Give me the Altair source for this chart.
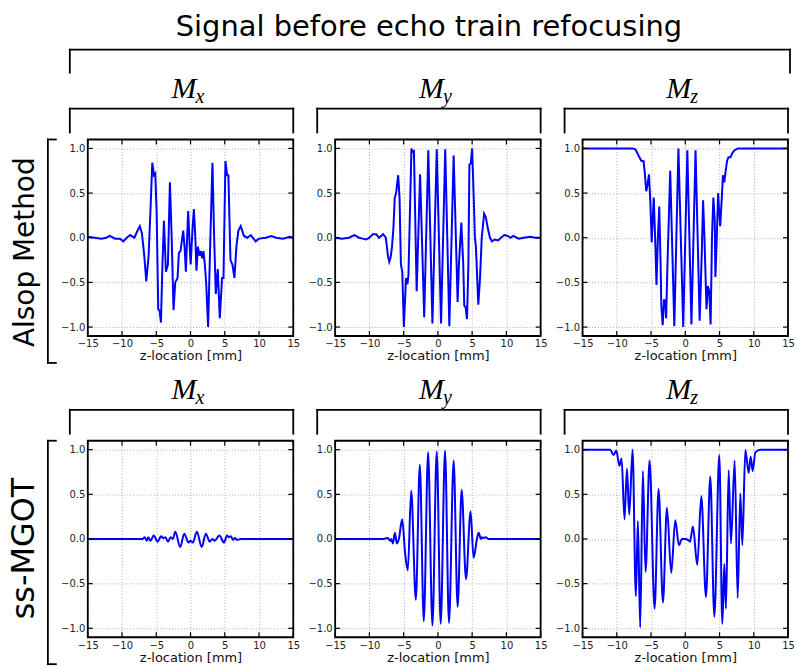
import altair as alt
import pandas as pd

# ---------------- data ----------------
XT = [-15, -10, -5, 0, 5, 10, 15]
YT = [-1.0, -0.5, 0.0, 0.5, 1.0]

alsop_mx_z = [-15, -14, -13, -12.3, -11.8, -11, -10.3, -9.8, -9.3, -8.8, -8.2, -7.8, -7.4, -7.1,
              -6.75, -6.46, -6.12, -5.8, -5.58, -5.34, -5.15, -4.95, -4.71, -4.51, -4.32, -4.1,
              -3.88, -3.59, -3.3, -3.01, -2.75, -2.48, -2.23, -1.89, -1.7, -1.46, -1.07, -0.87,
              -0.68, -0.5, -0.34, -0.15, 0.02, 0.29, 0.49, 0.7, 0.87, 1.07, 1.31, 1.5, 1.7, 1.89,
              2.09, 2.28, 2.57, 2.9, 3.2, 3.45, 3.69, 3.98, 4.27, 4.61, 4.81, 5.1, 5.34, 5.53,
              5.83, 6.12, 6.41, 6.7, 6.99, 7.33, 7.8, 8.3, 8.8, 9.5, 10, 11, 11.8, 12.5, 13.5,
              14.5, 15]
alsop_mx_v = [0.01, 0.0, -0.01, 0.0, 0.02, -0.01, -0.01, -0.04, 0.0, 0.03, 0.0, 0.07, 0.13, 0.05,
              -0.2, -0.49, -0.2, 0.4, 0.84, 0.7, 0.72, 0.3, -0.8, -0.82, -0.95, -0.3,
              0.19, -0.38, -0.3, 0.62, 0.0, -0.81, -0.5, -0.45, -0.17, -0.15, 0.08, -0.1,
              -0.38, 0.0, 0.3, -0.05, -0.3, 0.1, 0.32, 0.0, -0.37, -0.1, -0.2, -0.15, -0.23, -0.15,
              -0.3, -0.5, -1.0, 0.0, 0.84, 0.0, -0.63, -0.35, -0.9, -0.45, -0.45, 0.86, 0.7, 0.7,
              -0.25, -0.3, -0.45, -0.1, 0.08, 0.13, 0.02, 0.0, 0.03, -0.04, -0.01, 0.0, 0.02, 0.0, -0.01,
              0.01, 0.0]

alsop_my_z = [-15, -14, -13, -12.2, -11.5, -11, -10.5, -10, -9.5, -9, -8.6, -8.0, -7.6, -7.3, -7.1,
              -6.9, -6.7, -6.5, -6.3, -6.1, -5.8, -5.6, -5.4, -5.2, -4.97, -4.65, -4.45, -4.3,
              -3.86, -3.7, -3.5, -3.1, -2.6, -2.0, -1.4, -0.8, -0.17, 0.46, 1.07, 1.67, 2.3, 2.88,
              3.07, 3.42, 3.7, 3.85, 4.05, 4.25, 4.45, 4.6, 4.8, 5.0, 5.25, 5.4, 5.55, 5.9, 6.15,
              6.4, 6.75, 7.0, 7.3, 7.6, 7.9, 8.3, 8.8, 9.2, 9.7, 10.2, 10.6, 11, 11.8, 12.5, 13.5,
              14.2, 15]
alsop_my_v = [0.0, -0.01, 0.0, 0.03, 0.0, -0.01, -0.02, 0.0, 0.04, 0.04, 0.0, 0.04, 0.0, -0.2, -0.27,
              -0.22, -0.1, 0.1, 0.45, 0.5, 0.7, 0.45, -0.3, -0.38, -1.0, -0.45, -0.52, -0.42,
              1.0, 0.96, 0.97, -0.6, 0.71, -0.89, 0.98, -0.96, 0.99, -0.96, 0.99, -0.99, 0.92, -0.72,
              -0.3, 0.17, -0.3, -0.76, -0.78, -0.91, -0.3, 0.82, 0.83, 1.0, 0.4, 0.0, -0.1, -0.75, -0.45,
              0.0, 0.27, 0.23, 0.1, 0.0, -0.04, -0.02, -0.03, 0.0, 0.03, 0.02, 0.0, 0.02, -0.01, 0.0, 0.01,
              0.0, 0.0]

alsop_mz_z = [-15, -7.7, -7.3, -7.0, -6.7, -6.4, -6.1, -5.9, -5.7, -5.5, -5.3, -5.1, -4.9, -4.7, -4.6,
              -4.4, -4.2, -4.0, -3.8, -3.6, -3.5, -3.3, -3.1, -2.9, -2.8, -2.6, -2.2, -1.6, -1.0,
              -0.3, 0.3, 0.9, 1.5, 2.1, 2.4, 2.6, 2.8, 3.1, 3.3, 3.5, 3.7, 3.9, 4.1, 4.3, 4.4, 4.6,
              4.8, 4.9, 5.1, 5.3, 5.5, 5.7, 5.9, 6.1, 6.3, 6.6, 6.9, 7.2, 7.7, 15]
alsop_mz_v = [1.0, 1.0, 0.99, 0.95, 0.9, 0.86, 0.86, 0.72, 0.52, 0.6, 0.71, 0.4, -0.05, 0.3, 0.45,
              0.0, -0.53, 0.0, 0.35, -0.3, -0.75, -0.98, -0.7, -0.7, -0.9, -0.3, 0.75, -0.99, 1.0,
              -1.0, 0.98, -0.97, 0.98, -0.93, -0.2, 0.42, 0.0, -0.8, -0.54, -0.6, -0.97, 0.0, 0.45, 0.2, -0.44, 0.0,
              0.5, 0.35, 0.13, 0.4, 0.7, 0.62, 0.75, 0.86, 0.9, 0.9, 0.95, 0.98, 1.0, 1.0]

ss_mx_z = [-15, -7.5, -7.01, -6.68, -6.39, -6.19, -5.85, -5.37, -4.79, -4.31, -4.02, -3.68, -3.29,
           -2.9, -2.56, -2.23, -1.5, -0.92, -0.29, 0.0, 0.34, 0.92, 1.64, 2.23, 2.81, 3.19, 3.53,
           4.21, 4.89, 5.32, 5.6, 5.9, 6.19, 6.48, 6.8, 7.35, 15]
ss_mx_v = [0.0, 0.0, 0.0, 0.02, -0.02, 0.02, -0.02, 0.04, -0.03, 0.03, 0.01, 0.02, -0.03,
           0.02, 0.0, 0.08, -0.09, 0.06, -0.04, -0.02, -0.04, 0.08, -0.09, 0.06, -0.03, 0.0, -0.02,
           0.04, -0.04, 0.04, 0.02, 0.03, -0.01, 0.01, -0.01, 0.0, 0.0]

ss_my_z = [-15, -8.0, -7.3, -6.96, -6.81, -6.57, -6.28, -5.99, -5.7, -5.21, -4.8, -4.39, -3.9, -3.22,
           -2.64, -2.06, -1.43, -0.8, -0.17, 0.41, 1.04, 1.62, 2.3, 2.88, 3.47, 4.1, 4.77, 5.21,
           5.7, 5.94, 6.28, 6.5, 6.67, 7.01, 7.4, 15]
ss_my_v = [0.0, 0.0, 0.01, -0.02, 0.0, -0.05, 0.07, -0.05, 0.0, 0.22, -0.15, -0.35, 0.54, -0.68,
           0.83, -0.92, 0.97, -0.97, 0.98, -0.95, 0.99, -0.94, 0.88, -0.76, 0.55, -0.45, 0.31, -0.21,
           0.0, 0.07, 0.0, 0.02, 0.01, 0.02, 0.0, 0.0]

ss_mz_z = [-15, -10.96, -10.47, -10.08, -9.6, -9.3, -8.87, -8.52, -8.18, -7.7, -7.21, -6.92, -6.58,
           -6.19, -5.8, -5.21, -4.48, -3.9, -3.26, -2.68, -2.05, -1.46, -0.93, -0.49, 0.0, 0.39,
           0.68, 1.12, 1.75, 2.34, 3.02, 3.65, 4.24, 4.97, 5.41, 5.7, 5.94, 6.33, 6.67, 7.21, 7.65,
           8.04, 8.33, 8.77, 9.25, 9.55, 9.84, 10.23, 11.01, 15]
ss_mz_v = [1.0, 1.0, 0.94, 0.99, 0.82, 0.9, 0.22, 0.79, 0.27, 1.0, -0.64, 0.2, -0.99,
           0.76, -0.37, 0.88, -0.78, 0.56, -0.71, 0.35, -0.38, 0.21, -0.07, 0.0, 0.0, -0.01,
           -0.03, 0.14, -0.29, 0.48, -0.65, 0.7, -0.87, 0.94, -0.95, -0.28, -0.78, 0.77, -0.05, 0.88, -0.66,
           0.51, -0.07, 1.0, 0.74, 0.92, 0.76, 0.97, 1.0, 1.0]

ROW_LABELS = ["Alsop Method", "ss-MGOT"]
COL_SUBS = ["x", "y", "z"]
TITLE = "Signal before echo train refocusing"
XTITLE = "z-location [mm]"

# ---------------- layout ----------------
W, H = 206, 197
GAPX, GAPY = 42, 105
BLUE = "#0000ff"
ONE = alt.Data(values=[{"k": 1}])
SANS = "DejaVu Sans"
SERIF = "Liberation Serif"


def rule(x1, y1, x2, y2, sw=1.8):
    return alt.Chart(ONE).mark_rule(color="black", strokeWidth=sw, strokeCap="square").encode(
        x=alt.value(x1), y=alt.value(y1), x2=alt.value(x2), y2=alt.value(y2))


def text(s, x, y, size, font=SANS, align="center", angle=0, style="normal"):
    return alt.Chart(ONE).mark_text(text=s, font=font, fontSize=size, align=align,
                                     baseline="alphabetic", angle=angle, fontStyle=style,
                                     color="black").encode(x=alt.value(x), y=alt.value(y))


def decorations():
    layers = []
    # invisible anchor so that the page origin sits 88px left / 139px above panel 1
    layers.append(alt.Chart(ONE).mark_rule(strokeOpacity=0).encode(
        x=alt.value(-88), y=alt.value(-139), x2=alt.value(-84), y2=alt.value(-139)))
    layers.append(text(TITLE, 342, -104, 29))
    right = 2 * (W + GAPX) + W + 2
    layers += [rule(-18, -90, right, -90), rule(-18, -90, -18, -67), rule(right, -90, right, -67)]
    for r in range(2):
        oy = r * (H + GAPY)
        for i in range(3):
            ox = i * (W + GAPX)
            cx = ox + W / 2
            layers.append(text("M", cx + 6, oy - 42, 30, font=SERIF, align="right", style="italic"))
            layers.append(text(COL_SUBS[i], cx + 5, oy - 37, 20, font=SERIF, align="left", style="italic"))
            layers += [rule(ox - 18, oy - 31, ox + W, oy - 31),
                       rule(ox - 18, oy - 31, ox - 18, oy - 7),
                       rule(ox + W, oy - 31, ox + W, oy - 7)]
        layers += [rule(-40, oy, -40, oy + 224), rule(-40, oy, -32, oy), rule(-40, oy + 224, -32, oy + 224)]
    layers.append(text(ROW_LABELS[0], -54, 113, 28, angle=270))
    layers.append(text(ROW_LABELS[1], -54, 410, 32, angle=270))
    return layers


def panel(z, v, interp, deco=False):
    df = pd.DataFrame({"z": z, "v": v})
    xenc = alt.X("z:Q", scale=alt.Scale(domain=[-15, 15], nice=False, zero=False),
                 axis=alt.Axis(values=XT, title=XTITLE, labelFlush=False, labelOverlap=False))
    yenc = alt.Y("v:Q", scale=alt.Scale(domain=[-1.1, 1.1], nice=False, zero=False),
                 axis=alt.Axis(values=YT, format=".1f", title=None, labelFlush=False))
    line = alt.Chart(df).mark_line(color=BLUE, strokeWidth=2, interpolate=interp).encode(x=xenc, y=yenc)
    xt = pd.DataFrame({"z": XT})
    yt = pd.DataFrame({"v": YT})
    tk = dict(color="black", strokeWidth=1.2)
    ticks = [
        alt.Chart(xt).mark_rule(**tk).encode(x=xenc, y=alt.value(H), y2=alt.value(H - 5)),
        alt.Chart(xt).mark_rule(**tk).encode(x=xenc, y=alt.value(0), y2=alt.value(5)),
        alt.Chart(yt).mark_rule(**tk).encode(y=yenc, x=alt.value(0), x2=alt.value(5)),
        alt.Chart(yt).mark_rule(**tk).encode(y=yenc, x=alt.value(W), x2=alt.value(W - 5)),
    ]
    frame = alt.Chart(ONE).mark_rect(fillOpacity=0, stroke="black", strokeWidth=1.8).encode(
        x=alt.value(0), x2=alt.value(W), y=alt.value(0), y2=alt.value(H))
    layers = [line] + ticks + [frame]
    if deco:
        layers += decorations()
    return alt.layer(*layers).properties(width=W, height=H)


panels = [
    panel(alsop_mx_z, alsop_mx_v, "linear", deco=True),
    panel(alsop_my_z, alsop_my_v, "linear"),
    panel(alsop_mz_z, alsop_mz_v, "linear"),
    panel(ss_mx_z, ss_mx_v, "monotone"),
    panel(ss_my_z, ss_my_v, "monotone"),
    panel(ss_mz_z, ss_mz_v, "monotone"),
]

chart = alt.concat(*panels, columns=3).properties(
    spacing=alt.RowColnumber(row=GAPY, column=GAPX),
    bounds="flush",
    padding=0,
    background="white",
).configure_view(stroke=None).configure_axis(
    labelFont=SANS, labelFontSize=10, labelColor="#222", labelPadding=3,
    titleFont=SANS, titleFontSize=13, titleFontWeight="normal", titleColor="#111", titlePadding=1,
    ticks=False, domain=False,
    grid=True, gridColor="#9a9a9a", gridDash=[1, 2], gridWidth=0.8, gridOpacity=1,
)

chart.save("out.html", embed_options={"renderer": "svg", "actions": False})
